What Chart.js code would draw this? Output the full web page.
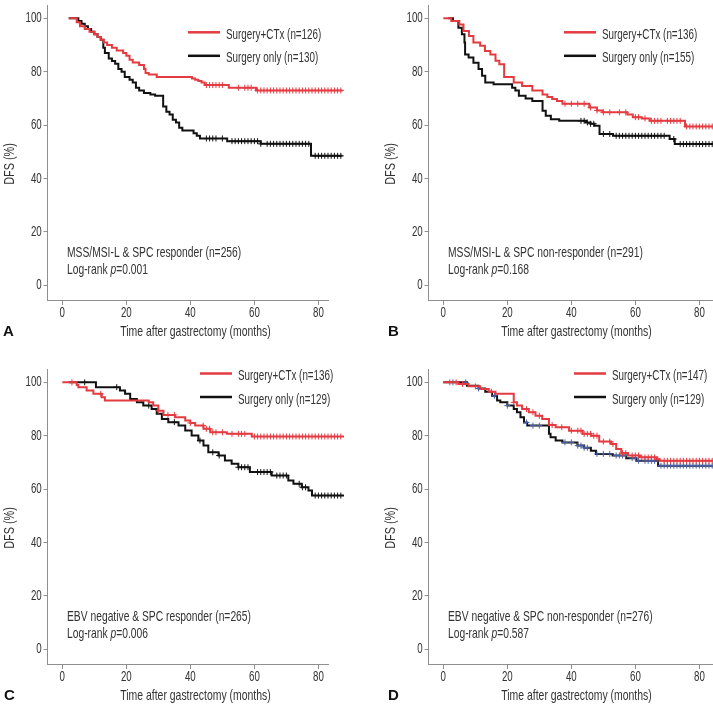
<!DOCTYPE html>
<html>
<head>
<meta charset="utf-8">
<script src="https://cdn.jsdelivr.net/npm/chart.js@4.4.1/dist/chart.umd.min.js"></script>
<style>
  body { margin: 0; width: 713px; height: 706px; overflow: hidden; background: #fff; position: relative; }
  canvas { position: absolute; }
</style>
</head>
<body>
<canvas id="chartA" width="356" height="340" style="left:0;top:0"></canvas>
<canvas id="chartB" width="356" height="340" style="left:381px;top:0"></canvas>
<canvas id="chartC" width="356" height="340" style="left:0;top:364px"></canvas>
<canvas id="chartD" width="356" height="340" style="left:381px;top:364px"></canvas>
<script>
// tick labels
const monthTicks = [0, 20, 40, 60, 80];
const dfsTicks = [0, 20, 40, 60, 80, 100];
const seriesNames = ["Surgery+CTx", "Surgery only"];

// A: MSS/MSI-L & SPC responder  -- [month, DFS %] steps
const aCtx = [[2,100],[4.5,98.5],[5.5,97],[7,96],[8.5,95],[10,94],[11,93],[12,92],[13,91],[14,90],[15.5,89],[17,88],[19,87],[20,86],[21,84.5],[22,83.5],[24,82.5],[25.5,81],[26,79.5],[27,79],[29.5,78],[40.5,77.5],[41.5,77],[42.5,76.5],[43.5,76],[44.5,75],[52,74],[60.5,73],[87.5,73]];
const aCtxCensor = [45,46,47,48,49,50,55,57,58,59,61,62,63,64,65,66,67,68,69,70,71,72,73,74,75,76,77,78,79,80,81,82,83,84,85,86,87];
const aSurg = [[2,100],[5,99],[6,98],[7,97],[8,96],[9,95],[10,94],[11,93],[12,92],[12.8,89],[13.3,87],[14.5,85],[15.5,84],[16.5,83],[17.5,81],[18.5,80],[19.5,78],[21,77],[22,76],[23,74],[24,73],[25.5,72],[27.5,71.5],[29,71],[31.5,67],[32.5,65],[33.5,64],[34.5,62],[35.5,61],[36.5,59],[37.5,58],[41,57],[42,56],[43,55],[51.5,54],[62,53],[77.7,48.5],[87.5,48.5]];
const aSurgCensor = [45,46,47,48,50,53,54,55,56,57,58,59,60,61,62,64,65,66,67,68,69,70,71,72,73,74,75,76,77,79,80,81,82,83,84,85,86,87];
const aCounts = [126, 130];
const aNote = "MSS/MSI-L & SPC responder (n=256)";
const aP = "0.001";

// B: MSS/MSI-L & SPC non-responder
const bCtx = [[0,100],[2.5,99],[5,97.7],[6.3,95.3],[8,93.4],[9.4,91],[11.5,89.7],[13,87.8],[14.7,86.5],[16.3,84.1],[17.5,82.8],[19,78],[22,76],[24.6,74.7],[27.8,73],[31,71.5],[32.5,70.5],[34,69.8],[35.5,69],[37.2,68],[45.6,66.6],[48,65.5],[49.8,64.8],[57.5,64],[59.2,63],[62,62.5],[64.5,61.6],[75.5,59.5],[88,59.5]];
const bCtxCensor = [38,40,42,44,46,48,50,52,55,57,60,61,63,65,66,67,68,70,71,72,73,74,76,77,78,79,80,81,82,83,84];
const bSurg = [[1.5,100],[3,99],[4.7,96.5],[5.8,94],[6.6,91],[6.8,86.5],[7.9,85.3],[9.4,83.4],[11,81],[12.1,78.5],[13.1,76],[15.7,75.3],[21.5,74],[22.5,73],[23.6,71],[25.7,70],[27.8,69],[31,65.4],[32,63.5],[33.6,62.2],[36.2,61.6],[44.6,61],[46,60.5],[47.2,59.8],[48.8,56.7],[53,56],[70.7,54.8],[72.3,52.9],[88,52.9]];
const bSurgCensor = [43,44,45,46,47,50,52,54,55,56,57,58,59,60,61,62,63,64,65,66,67,68,69,72,74,75,76,77,78,79,80,81,82,83,84];
const bCounts = [136, 155];
const bNote = "MSS/MSI-L & SPC non-responder (n=291)";
const bP = "0.168";

// C: EBV negative & SPC responder
const cCtx = [[0,100],[4.5,99],[5,98.2],[7.6,96.9],[9.7,95.7],[12.3,94.4],[13.3,93.2],[27,92.5],[28.4,91.3],[30,89.4],[31.6,87.8],[35.2,86.9],[38.4,85.7],[40,84.8],[41.5,83.8],[44.1,82.6],[46.2,81.3],[51.4,80.7],[59.2,79.7],[88,79.7]];
const cCtxCensor = [3,12,30,33,35,40,44,45,46,47,48,50,53,55,56,57,60,61,62,63,64,65,66,67,68,69,70,71,72,73,74,75,76,77,78,79,80,81,82,83,84,85,86,87];
const cSurg = [[2,100],[10.5,98.2],[18,96.9],[19.6,95.7],[21.2,93.8],[23.3,92.5],[25.3,91.3],[27.9,90],[29.5,88.2],[31.1,86.3],[33.1,85.1],[36.3,83.8],[38.4,82],[40.4,80.1],[42.5,78.2],[44.1,76.3],[45.6,73.8],[48.8,72.6],[50.8,70.7],[52.9,69.5],[55,68.2],[58.6,66.4],[65.4,65.1],[70.6,63.2],[72.2,62],[74.8,60.7],[76.9,59.5],[78,57.6],[88,57.6]];
const cSurgCensor = [7,17,27,35,43,47,49,55,56,57,58,61,62,63,64,65,67,68,69,70,74,75,76,79,80,81,82,83,84,85,86,87];
const cCounts = [136, 129];
const cNote = "EBV negative & SPC responder (n=265)";
const cP = "0.006";

// D: EBV negative & SPC non-responder
const dCtx = [[0,100],[4.7,99.4],[7.9,98.5],[11.5,97.5],[14.2,96.5],[16.3,95.7],[22,92.5],[23,91.3],[24.6,90],[26.7,88.8],[28.8,87.5],[30.9,86.3],[33,84],[35.1,83.2],[39.3,81.9],[43.5,80.7],[46.1,80],[48.7,77.8],[52.4,76.9],[54,75],[55.6,73.5],[57.7,72.6],[61.4,71.9],[66.6,71.2],[67.6,70.6],[88,70.6]];
const dCtxCensor = [2,4,6,10,15,22,26,28,30,34,37,40,42,43,44,45,46,47,48,50,52,53,56,57,59,60,61,62,63,64,65,66,67,69,70,71,72,73,74,75,76,77,78,79,80,81,82,83,84,85,86,87];
const dSurg = [[0,100],[7.4,98.7],[11,97.7],[13.1,96.5],[15.2,95],[16.8,93.2],[17.8,92.5],[20,91.3],[22,90],[23,88.8],[24.1,86.9],[25.2,85],[26.2,83.8],[33,80.7],[33.5,79.4],[35.1,78.2],[37.2,77.5],[41.9,76.3],[44,75.5],[46.1,74.4],[47.7,73.2],[52.9,72.6],[57.1,71.6],[60.3,70.6],[67.1,68.8],[88,68.8]];
const dSurgCensor = [3,7,11,16,20,26,28,30,38,40,42,43,44,45,48,50,52,54,55,56,57,59,60,61,63,64,65,66,68,69,70,71,72,73,74,75,76,77,78,79,80,81,82,83,84,85,86,87];
const dCounts = [147, 129];
const dNote = "EBV negative & SPC non-responder (n=276)";
const dP = "0.587";

const RED = "#e43b41";
const BLACK = "#111111";
const AXIS = "#8f8f8f";
const TEXT = "#333333";
const FONT = "'Liberation Sans', Arial, sans-serif";

// condensed text (the figure uses a narrow face)
function drawText(ctx, str, x, y, o = {}) {
  const sx = o.sx || 0.7;
  ctx.save();
  ctx.font = (o.style || "") + " " + (o.size || 14.5) + "px " + (o.family || FONT);
  ctx.textBaseline = "middle";
  ctx.textAlign = o.align || "left";
  ctx.fillStyle = o.color || TEXT;
  ctx.translate(x, y);
  if (o.rotate) ctx.rotate(o.rotate);
  ctx.scale(sx, 1);
  ctx.fillText(str, 0, 0);
  const w = ctx.measureText(str).width * sx;
  ctx.restore();
  return w;
}

// DFS value of a step curve at a given month (for censor marks)
function valueAt(steps, t) {
  let v = steps[0][1];
  for (const s of steps) { if (s[0] <= t) v = s[1]; }
  return v;
}

const kmDecor = {
  id: 'kmDecor',
  beforeDatasetsDraw(chart, args, o) {
    const { ctx, scales: { x, y } } = chart;
    ctx.save();
    ctx.strokeStyle = AXIS;
    ctx.lineWidth = 1;
    const yb = Math.round(y.bottom) + 0.5;
    ctx.beginPath();
    ctx.moveTo(x.left, yb);
    ctx.lineTo(x.getPixelForValue(o.axisEnd), yb);
    ctx.stroke();
    ctx.restore();
  },
  afterDraw(chart, args, o) {
    const { ctx, scales: { x, y } } = chart;
    // tick labels and axis titles
    monthTicks.forEach(v => drawText(ctx, String(v), x.getPixelForValue(v), 313, { align: "center", sx: 0.67 }));
    dfsTicks.forEach(v => drawText(ctx, String(v), 41.7, y.getPixelForValue(v), { align: "right", sx: 0.67 }));
    drawText(ctx, "Time after gastrectomy (months)", 195.5, 331.5, { align: "center", sx: 0.72 });
    drawText(ctx, "DFS (%)", 10, 164, { align: "center", rotate: -Math.PI / 2, sx: 0.75 });
    // legend
    const lines = chart.data.datasets.filter(d => d.showLine).reverse();
    lines.forEach((d, i) => {
      const yy = o.legendY + i * 23.5;
      ctx.save();
      ctx.strokeStyle = d.borderColor;
      ctx.lineWidth = 2.5;
      ctx.beginPath();
      ctx.moveTo(o.legendX, yy);
      ctx.lineTo(o.legendX + 32, yy);
      ctx.stroke();
      ctx.restore();
      drawText(ctx, d.label, o.legendX + 38, yy + 2.5, { sx: 0.68 });
    });
    // annotation
    drawText(ctx, o.note, 67, 253, { sx: 0.71 });
    let tx = 67;
    tx += drawText(ctx, "Log-rank ", tx, 270, { sx: 0.71 });
    tx += drawText(ctx, "p", tx, 270, { sx: 0.71, style: "italic" });
    drawText(ctx, "=" + o.p, tx, 270, { sx: 0.71 });
    // panel letter
    drawText(ctx, o.letter, o.letterX, 332, { style: "bold", size: 15, sx: 1, color: "#111" });
  }
};

function makePanel(id, letter, ctxSteps, ctxCensor, surgSteps, surgCensor, counts, note, p, opts) {
  const toXY = s => s.map(d => ({ x: d[0], y: d[1] }));
  const censorXY = (steps, times) => times.map(t => ({ x: t, y: valueAt(steps, t) }));
  new Chart(document.getElementById(id), {
    type: 'scatter',
    data: {
      datasets: [
        { label: seriesNames[1] + " (n=" + counts[1] + ")", data: toXY(surgSteps), showLine: true, stepped: true,
          borderColor: BLACK, borderWidth: 2, pointRadius: 0, order: 4 },
        { label: "", data: censorXY(surgSteps, surgCensor), pointStyle: 'cross', pointRadius: 3,
          borderColor: opts.surgCensorColor || BLACK, borderWidth: 1, order: 3 },
        { label: seriesNames[0] + " (n=" + counts[0] + ")", data: toXY(ctxSteps), showLine: true, stepped: true,
          borderColor: RED, borderWidth: 2, pointRadius: 0, order: 2 },
        { label: "", data: censorXY(ctxSteps, ctxCensor), pointStyle: 'cross', pointRadius: 3,
          borderColor: RED, borderWidth: 1, order: 1 }
      ]
    },
    options: {
      responsive: false,
      animation: false,
      devicePixelRatio: 1,
      layout: { padding: { top: 4, right: 12, left: 0, bottom: 0 } },
      plugins: {
        legend: { display: false },
        tooltip: { enabled: false },
        kmDecor: { letter, letterX: opts.letterX, legendX: opts.legendX, legendY: opts.legendY, note, p, axisEnd: opts.axisEnd }
      },
      scales: {
        x: {
          type: 'linear', min: -4.6, max: 88,
          afterBuildTicks: s => { s.ticks = monthTicks.map(v => ({ value: v })); },
          afterFit: s => { s.height = 40; s.paddingLeft = 0; s.paddingRight = 0; },
          grid: { drawOnChartArea: false, drawTicks: true, tickLength: 5, color: AXIS },
          border: { display: false },
          ticks: { display: false }
        },
        y: {
          type: 'linear', min: -5.5, max: 105,
          afterBuildTicks: s => { s.ticks = dfsTicks.map(v => ({ value: v })); },
          afterFit: s => { s.width = 47.6; s.paddingTop = 0; s.paddingBottom = 0; },
          grid: { drawOnChartArea: false, drawTicks: true, tickLength: 4, color: AXIS },
          border: { display: true, color: AXIS },
          ticks: { display: false }
        }
      }
    },
    plugins: [kmDecor]
  });
}

makePanel('chartA', 'A', aCtx, aCtxCensor, aSurg, aSurgCensor, aCounts, aNote, aP,
  { letterX: 3, legendX: 188, legendY: 32.3, axisEnd: 83.3 });
makePanel('chartB', 'B', bCtx, bCtxCensor, bSurg, bSurgCensor, bCounts, bNote, bP,
  { letterX: 7, legendX: 183, legendY: 32.3, axisEnd: 88 });
makePanel('chartC', 'C', cCtx, cCtxCensor, cSurg, cSurgCensor, cCounts, cNote, cP,
  { letterX: 4, legendX: 200, legendY: 9.5, axisEnd: 83.3 });
makePanel('chartD', 'D', dCtx, dCtxCensor, dSurg, dSurgCensor, dCounts, dNote, dP,
  { letterX: 7, legendX: 193, legendY: 9.5, axisEnd: 88, surgCensorColor: "#4a62ad" });
</script>
</body>
</html>
